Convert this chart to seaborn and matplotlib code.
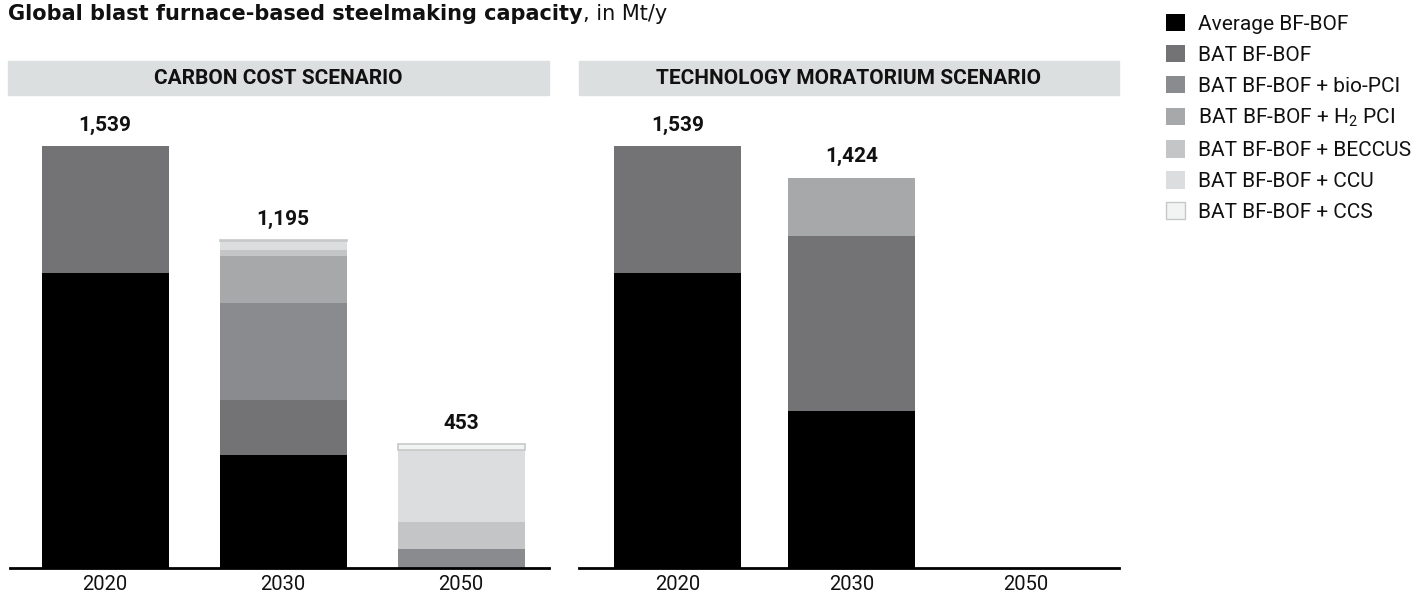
import numpy as np
import pandas as pd
import matplotlib
matplotlib.use("Agg")
from matplotlib import pyplot as plt
from matplotlib.patches import Patch, Rectangle
import seaborn as sns

# categories and layers (bottom -> top)
years = ['2020', '2030', '2050']
layers = ['Average BF-BOF', 'BAT BF-BOF', 'BAT BF-BOF + bio-PCI', 'BAT BF-BOF + H$_2$ PCI',
          'BAT BF-BOF + BECCUS', 'BAT BF-BOF + CCU', 'BAT BF-BOF + CCS']
colors = ['#000000', '#737375', '#8a8b8e', '#a7a8aa', '#c4c5c6', '#dcddde', '#f2f4f3']

# carbon cost scenario, Mt/y
cc_avg = [1075, 413, 0]
cc_bat = [464, 201, 0]
cc_bio = [0, 352, 70]
cc_h2 = [0, 171, 0]
cc_beccus = [0, 22, 98]
cc_ccu = [0, 32, 263]
cc_ccs = [0, 4, 22]

# technology moratorium scenario, Mt/y
tm_avg = [1075, 574, 0]
tm_bat = [464, 637, 0]
tm_bio = [0, 0, 0]
tm_h2 = [0, 213, 0]
tm_beccus = [0, 0, 0]
tm_ccu = [0, 0, 0]
tm_ccs = [0, 0, 0]

panels = [
    ('CARBON COST SCENARIO', [cc_avg, cc_bat, cc_bio, cc_h2, cc_beccus, cc_ccu, cc_ccs]),
    ('TECHNOLOGY MORATORIUM SCENARIO', [tm_avg, tm_bat, tm_bio, tm_h2, tm_beccus, tm_ccu, tm_ccs]),
]

sns.set_theme(style='white')
plt.rcParams['font.family'] = ['Roboto', 'DejaVu Sans']
plt.rcParams['mathtext.default'] = 'regular'

W, H = 1424, 597
fig = plt.figure(figsize=(W / 100, H / 100), dpi=100)

# pixel boxes for the two panels: axis span, header span, x limits, bar width
boxes = [((10, 549), (8, 549), (-0.534, 2.494), 0.713),
         ((579, 1119), (579, 1119), (-0.566, 2.537), 0.73)]
base_y, top_y = 568, 100

for (title, series), ((x0, x1), (hx0, hx1), xl, bw) in zip(panels, boxes):
    ax = fig.add_axes([x0 / W, 1 - base_y / H, (x1 - x0) / W, (base_y - top_y) / H])
    bottom = np.zeros(len(years))
    for name, vals, col in zip(layers, series, colors):
        df = pd.DataFrame({'year': years, 'value': vals})
        is_ccs = name.endswith('CCS')
        sns.barplot(data=df, x='year', y='value', order=years, color=col, saturation=1,
                    errorbar=None, width=bw, bottom=bottom, ax=ax,
                    edgecolor='#c5c9c8' if is_ccs else 'none',
                    linewidth=1.2 if is_ccs else 0)
        if is_ccs:
            for p in ax.containers[-1]:
                if p.get_height() == 0:
                    p.set_linewidth(0)
        bottom = bottom + np.array(vals)
    for i, tot in enumerate(bottom):
        if tot > 0:
            ax.annotate(f'{int(tot):,}', (i, tot), xytext=(0, 8), textcoords='offset points',
                        ha='center', va='bottom', fontsize=15, fontweight='bold', color='#111111')
    ax.set_xlim(*xl)
    ax.set_ylim(0, (base_y - top_y) / ((base_y - 146) / 1539))
    ax.set_xlabel('')
    ax.set_ylabel('')
    ax.set_yticks([])
    ax.tick_params(axis='x', length=0, labelsize=14.5, pad=5, colors='#111111')
    for s in ['top', 'right', 'left']:
        ax.spines[s].set_visible(False)
    ax.spines['bottom'].set_color('#000000')
    ax.spines['bottom'].set_linewidth(2)

    # header band
    fig.patches.append(Rectangle((hx0 / W, 1 - 95 / H), (hx1 - hx0) / W, 34 / H,
                                 transform=fig.transFigure, color='#dcdfdf', zorder=0))
    fig.text((hx0 + hx1) / 2 / W, 1 - 78 / H, title, ha='center', va='center',
             fontsize=15, fontweight='bold', color='#111111')

# title
t1 = fig.text(8 / W, 1 - 14 / H, 'Global blast furnace-based steelmaking capacity', ha='left',
              va='center', fontsize=15, fontweight='bold', color='#111111',
              family=['DejaVu Sans'])
fig.canvas.draw()
bb = t1.get_window_extent()
fig.text(bb.x1 / W, 1 - 14 / H, ', in Mt/y', ha='left', va='center', fontsize=15,
         color='#111111', family=['DejaVu Sans'])

# legend
handles = []
for name, col in zip(layers, colors):
    if name.endswith('CCS'):
        handles.append(Patch(facecolor=col, edgecolor='#c5c9c8', linewidth=1))
    else:
        handles.append(Patch(facecolor=col, edgecolor='none'))
fig.legend(handles, layers, loc='upper left', bbox_to_anchor=(1166 / W, 1 - 14 / H),
           frameon=False, fontsize=15, handlelength=0.91, handleheight=0.91,
           handletextpad=0.62, labelspacing=0.53, borderpad=0, borderaxespad=0,
           labelcolor='#111111')

fig.savefig('out.png', dpi=100)
